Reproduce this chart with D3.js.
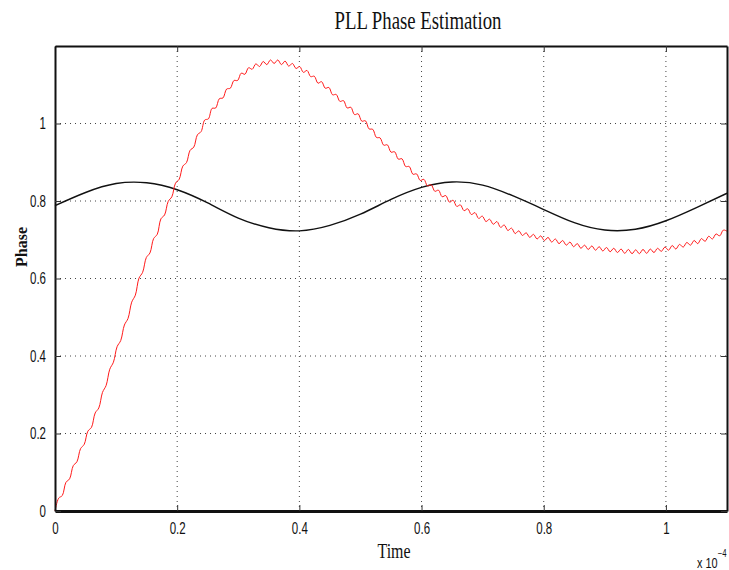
<!DOCTYPE html>
<html><head><meta charset="utf-8">
<script src="https://cdn.jsdelivr.net/npm/d3@7/dist/d3.min.js"></script>
<style>body{margin:0;background:#fff}svg{display:block}</style>
</head><body>
<svg id="chart" width="729" height="570"></svg>
<script>
// ---- data (time in units of 1e-4) ----
const xTicks = [0, 0.2, 0.4, 0.6, 0.8, 1];
const yTicks = [0, 0.2, 0.4, 0.6, 0.8, 1];
const xTickLabels = ["0", "0.2", "0.4", "0.6", "0.8", "1"];
const yTickLabels = ["0", "0.2", "0.4", "0.6", "0.8", "1"];
const tMax = 1.1;

// black curve, sampled every 0.05
const blackStep = 0.05;
const blackValues = [0.788,0.822,0.845,0.847,0.829,0.795,0.756,0.731,0.723,0.737,0.766,0.804,
  0.835,0.849,0.841,0.813,0.778,0.744,0.725,0.727,0.749,0.783,0.820];

// red curve (PLL estimate with ripple), sampled uniformly over [0, 1.1]
const redValues = [0.000,0.033,0.040,0.074,0.083,0.117,0.127,0.161,0.172,0.206,
  0.216,0.253,0.266,0.306,0.324,0.366,0.384,0.424,0.440,0.480,
  0.497,0.539,0.557,0.601,0.616,0.654,0.666,0.703,0.714,0.754,
  0.764,0.799,0.811,0.846,0.856,0.890,0.899,0.931,0.939,0.971,
  0.979,1.009,1.012,1.039,1.040,1.064,1.066,1.089,1.091,1.111,
  1.111,1.130,1.127,1.144,1.140,1.154,1.147,1.160,1.152,1.164,
  1.155,1.164,1.152,1.161,1.148,1.155,1.142,1.147,1.132,1.137,
  1.121,1.122,1.104,1.108,1.091,1.093,1.074,1.075,1.057,1.059,
  1.040,1.042,1.023,1.025,1.006,1.007,0.986,0.985,0.964,0.963,
  0.944,0.945,0.926,0.927,0.908,0.909,0.889,0.889,0.869,0.870,
  0.853,0.856,0.839,0.842,0.825,0.828,0.811,0.814,0.797,0.802,
  0.786,0.790,0.775,0.780,0.765,0.770,0.755,0.761,0.747,0.753,
  0.740,0.747,0.732,0.738,0.724,0.730,0.716,0.723,0.711,0.718,
  0.706,0.714,0.702,0.710,0.698,0.706,0.694,0.702,0.690,0.698,
  0.686,0.694,0.682,0.690,0.678,0.686,0.675,0.684,0.673,0.682,
  0.671,0.680,0.669,0.678,0.667,0.676,0.665,0.675,0.664,0.674,
  0.664,0.675,0.665,0.676,0.667,0.678,0.670,0.681,0.673,0.685,
  0.676,0.688,0.681,0.693,0.686,0.698,0.690,0.703,0.696,0.709,
  0.702,0.715,0.710,0.725,0.722];

// ---- layout ----
const svg = d3.select("#chart");
const L = 55, R = 727, T = 46, B = 511;
const x = d3.scaleLinear().domain([0, tMax]).range([L, R]);
const y = d3.scaleLinear().domain([0, 1.2]).range([B, T]);

const serif = "'Liberation Serif','Times New Roman',serif";
const sans = "'Liberation Sans',Arial,sans-serif";

// grid
const g = svg.append("g");
g.selectAll("line.gx").data(xTicks.slice(1)).join("line")
  .attr("x1", d => x(d)).attr("x2", d => x(d)).attr("y1", T).attr("y2", B)
  .attr("stroke", "#444").attr("stroke-width", 1).attr("stroke-dasharray", "1,4");
g.selectAll("line.gy").data(yTicks.slice(1)).join("line")
  .attr("y1", d => y(d)).attr("y2", d => y(d)).attr("x1", L).attr("x2", R)
  .attr("stroke", "#444").attr("stroke-width", 1).attr("stroke-dasharray", "1,4");

// curves
const lineB = d3.line().x((d, i) => x(i * blackStep)).y(d => y(d)).curve(d3.curveNatural);
svg.append("path").attr("d", lineB(blackValues)).attr("fill", "none")
  .attr("stroke", "#111").attr("stroke-width", 1.4);
const redStep = tMax / (redValues.length - 1);
const lineR = d3.line().x((d, i) => x(i * redStep)).y(d => y(d)).curve(d3.curveCatmullRom);
svg.append("path").attr("d", lineR(redValues)).attr("fill", "none")
  .attr("stroke", "#ff1a1a").attr("stroke-width", 1);

// axes (MATLAB style, ticks inside)
const axB = svg.append("g").attr("transform", `translate(0,${B})`)
  .call(d3.axisBottom(x).tickValues(xTicks).tickSizeInner(-6).tickSizeOuter(0)
    .tickPadding(12).tickFormat((d, i) => xTickLabels[i]));
const axT = svg.append("g").attr("transform", `translate(0,${T})`)
  .call(d3.axisTop(x).tickValues(xTicks).tickSizeInner(-6).tickSizeOuter(0).tickFormat(""));
const axL = svg.append("g").attr("transform", `translate(${L},0)`)
  .call(d3.axisLeft(y).tickValues(yTicks).tickSizeInner(-6).tickSizeOuter(0)
    .tickPadding(9).tickFormat((d, i) => yTickLabels[i]));
const axR = svg.append("g").attr("transform", `translate(${R},0)`)
  .call(d3.axisRight(y).tickValues(yTicks).tickSizeInner(-6).tickSizeOuter(0).tickFormat(""));
[axB, axT, axL, axR].forEach(a => {
  a.select(".domain").attr("stroke", "#111").attr("stroke-width", 2);
  a.selectAll(".tick line").attr("stroke", "#333").attr("stroke-width", 1);
  a.selectAll(".tick text").attr("font-family", sans).attr("font-size", 16).attr("fill", "#111");
});
axB.select(".domain").attr("stroke-width", 3);
// condensed look of the tick labels
axB.selectAll(".tick text").attr("transform", "scale(0.72,1)");
axL.selectAll(".tick text").attr("transform", "scale(0.72,1)").attr("x", -9 / 0.72);

// texts
svg.append("text").attr("x", 418).attr("y", 29).attr("text-anchor", "middle")
  .attr("font-family", serif).attr("font-size", 25).attr("fill", "#111")
  .attr("textLength", 167).attr("lengthAdjust", "spacingAndGlyphs").text("PLL Phase Estimation");
svg.append("text").attr("x", 394).attr("y", 558).attr("text-anchor", "middle")
  .attr("font-family", serif).attr("font-size", 22).attr("fill", "#111")
  .attr("textLength", 33).attr("lengthAdjust", "spacingAndGlyphs").text("Time");
svg.append("text").attr("transform", "translate(27,247) rotate(-90)").attr("text-anchor", "middle")
  .attr("font-family", serif).attr("font-size", 16).attr("font-weight", "bold").attr("fill", "#111")
  .text("Phase");
const ex = svg.append("g").attr("transform", "translate(697,568) scale(0.78,1)");
const exT = ex.append("text").attr("x", 0).attr("y", 0)
  .attr("font-family", sans).attr("font-size", 14).attr("fill", "#111");
exT.append("tspan").text("x 10");
exT.append("tspan").attr("dy", -11).attr("font-size", 10).text("−4");
</script>
</body></html>
